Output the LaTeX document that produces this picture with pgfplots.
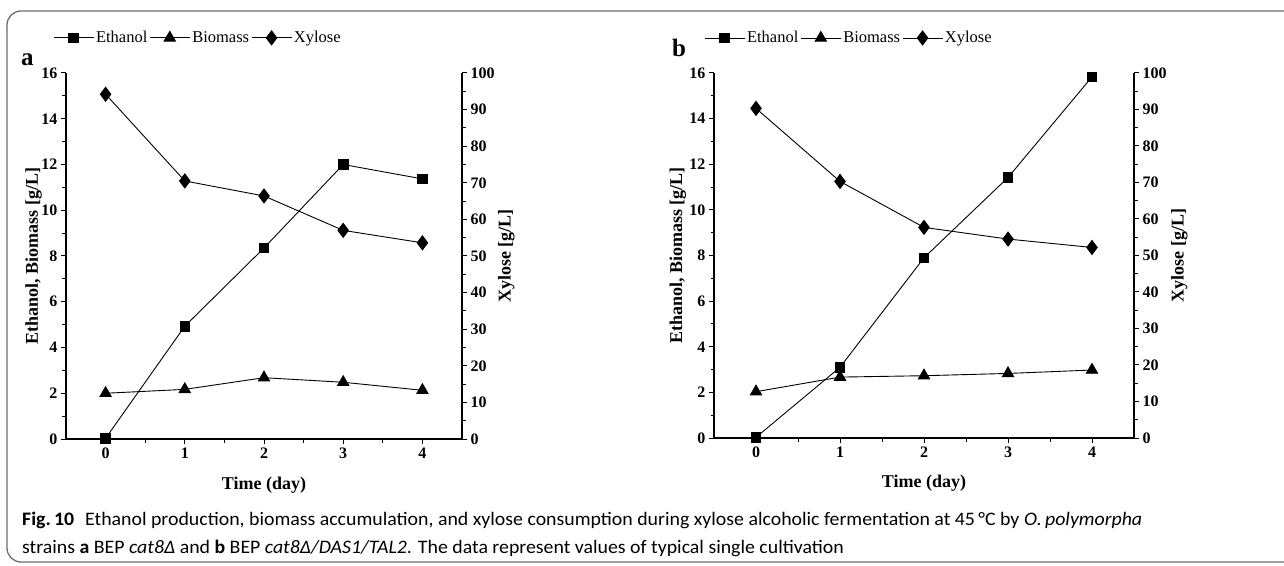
\documentclass[border=0pt]{standalone}
\usepackage{pgfplots}
\pgfplotsset{compat=1.18}
\usepackage{fontspec}
\setmainfont{Liberation Serif}
\newfontfamily\capfont{Carlito}

\pgfplotsset{
  common/.style={
    scale only axis,
    xmin=-0.5, xmax=4.5,
    axis line style={line width=1.2pt,-},
    tick style={line width=1pt, black},
    tick align=outside,
    major tick length=5pt, minor tick length=3.5pt,
    tick label style={font=\fontsize{16}{16}\selectfont\bfseries},
    /pgf/number format/assume math mode=true,
    label style={font=\fontsize{18}{18}\selectfont\bfseries},
    every axis plot/.append style={black, line width=0.9pt},
    every axis plot post/.append style={
      legend image code/.code={\draw[mark repeat=2,mark phase=2] plot coordinates {(0pt,0pt)(20pt,0pt)(40pt,0pt)};}},
  },
  leftax/.style={
    common,
    axis x line*=bottom, axis y line*=left,
    xtick={0,1,2,3,4}, minor xtick={0.5,1.5,2.5,3.5},
    ymin=0, ymax=16, ytick={0,2,...,16}, minor ytick={1,3,...,15},
    xlabel={Time (day)},
    ylabel={Ethanol, Biomass [g/L]},
    xlabel style={at={(axis description cs:0.5,-0.125)}, anchor=center},
    legend style={draw=none, fill=none, legend columns=-1, inner sep=0pt,
      font=\fontsize{16.5}{16.5}\selectfont,
      nodes={inner sep=2pt},
      /tikz/every even column/.append style={column sep=0pt},
      /tikz/every odd column/.append style={column sep=0pt}},
  },
  rightax/.style={
    common,
    axis x line=none, axis y line*=right,
    ymin=0, ymax=100, ytick={0,10,...,100}, minor ytick={5,15,...,95},
    ylabel={Xylose [g/L]},
  },
  eth/.style={mark=square*, mark size=4.8pt, mark options={solid}},
  bio/.style={mark=triangle*, mark size=6.5pt, mark options={solid}},
  xyl/.style={mark=diamond*, mark size=7pt, mark options={solid}},
}

\newsavebox\capone
\newsavebox\captwo

\begin{document}
\sbox\capone{\capfont\fontsize{18}{18}\selectfont
  \textbf{Fig.\,10}\hspace{0.55em}Ethanol production, biomass accumulation, and xylose consumption during xylose alcoholic fermentation at 45\,°C by \textit{O.\,polymorpha}}%
\sbox\captwo{\capfont\fontsize{18}{18}\selectfont
  strains \textbf{a} BEP \textit{cat8Δ} and \textbf{b} BEP \textit{cat8Δ/DAS1/TAL2}. The data represent values of typical single cultivation}%
\pgfmathsetmacro\capscale{1120/\wd\capone}%
\begin{tikzpicture}
\useasboundingbox (0pt,0pt) rectangle (1284pt,565pt);
\draw[line width=1.3pt, gray!85!black, rounded corners=14pt]
  (1284pt,554pt) -- (7pt,554pt) -- (7pt,3pt) -- (1284pt,3pt);

% ---------- panel a ----------
\begin{axis}[leftax, at={(66pt,126pt)}, anchor=south west, width=396pt, height=366pt,
  ylabel style={at={(axis description cs:-0.082,0.5)}, anchor=center},
  legend style={at={(axis description cs:-0.033,1.096)}, anchor=west}]
\addplot[eth] coordinates {(0,0.03) (1,4.93) (2,8.35) (3,12.0) (4,11.37)};
\addlegendentry{Ethanol}
\addplot[bio] coordinates {(0,2.0) (1,2.17) (2,2.68) (3,2.48) (4,2.13)};
\addlegendentry{Biomass}
\addlegendimage{black, line width=0.9pt, xyl}
\addlegendentry{Xylose}
\end{axis}
\begin{axis}[rightax, at={(66pt,126pt)}, anchor=south west, width=396pt, height=366pt,
  ylabel style={at={(axis description cs:1.112,0.5)}, anchor=center}]
\addplot[xyl] coordinates {(0,94.2) (1,70.5) (2,66.4) (3,57.0) (4,53.6)};
\end{axis}

% ---------- panel b ----------
\begin{axis}[leftax, at={(714pt,127pt)}, anchor=south west, width=420pt, height=365pt,
  ylabel style={at={(axis description cs:-0.086,0.5)}, anchor=center},
  legend style={at={(axis description cs:-0.024,1.096)}, anchor=west}]
\addplot[eth] coordinates {(0,0.03) (1,3.1) (2,7.9) (3,11.42) (4,15.83)};
\addlegendentry{Ethanol}
\addplot[bio] coordinates {(0,2.03) (1,2.67) (2,2.73) (3,2.83) (4,2.98)};
\addlegendentry{Biomass}
\addlegendimage{black, line width=0.9pt, xyl}
\addlegendentry{Xylose}
\end{axis}
\begin{axis}[rightax, at={(714pt,127pt)}, anchor=south west, width=420pt, height=365pt,
  ylabel style={at={(axis description cs:1.108,0.5)}, anchor=center}]
\addplot[xyl] coordinates {(0,90.3) (1,70.3) (2,57.7) (3,54.5) (4,52.2)};
\end{axis}

% panel letters
\node[anchor=base west, inner sep=0pt] at (21pt,499pt) {\fontsize{25}{25}\selectfont\bfseries a};
\node[anchor=base west, inner sep=0pt] at (672pt,508pt) {\fontsize{25}{25}\selectfont\bfseries b};

% caption
\node[anchor=base west, inner sep=0pt, text=black!90] at (22pt,40pt) {\scalebox{\capscale}[1.06]{\usebox\capone}};
\node[anchor=base west, inner sep=0pt, text=black!90] at (22pt,12pt) {\scalebox{\capscale}[1.06]{\usebox\captwo}};
\end{tikzpicture}
\end{document}
